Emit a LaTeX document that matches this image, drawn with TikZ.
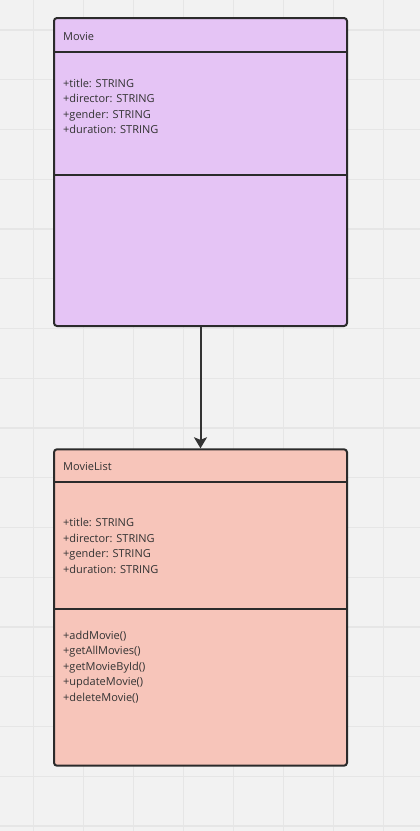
\documentclass[tikz,border=0pt]{standalone}
\usepackage{fontspec}
\setmainfont{Open Sans}
\usetikzlibrary{arrows.meta}
\definecolor{bg}{HTML}{F2F2F2}
\definecolor{gridc}{HTML}{E6E6E6}
\definecolor{edge}{HTML}{2B2B2B}
\definecolor{txt}{HTML}{333333}
\definecolor{lav}{HTML}{E5C4F5}
\definecolor{salmon}{HTML}{F7C5BA}
\tikzset{
  classbox/.style={draw=edge, line width=2pt, rounded corners=3pt, inner sep=0pt, minimum width=293pt},
  divider/.style={draw=edge, line width=1.8pt},
  label/.style={anchor=base west, inner sep=0pt, font=\fontsize{11pt}{13pt}\selectfont, text=txt},
  gridline/.style={draw=gridc, line width=1.3pt},
  link/.style={draw=txt, line width=2pt, -{Stealth[length=11pt,width=13pt,inset=2.5pt]}}
}
\begin{document}
\begin{tikzpicture}[x=1pt,y=-1pt]
\fill[bg] (0,0) rectangle (420,831);
\useasboundingbox (0,0) rectangle (420,831);
\foreach \i in {0,...,7} \draw[gridline] (33.5+50*\i,0) -- (33.5+50*\i,831);
\foreach \j in {0,...,16} \draw[gridline] (0,30+49.75*\j) -- (420,30+49.75*\j);

% Movie
\node[classbox, fill=lav, minimum height=308pt] (movie) at (200.5,172) {};
\draw[divider] (54,51.7) -- (347,51.7);
\draw[divider] (54,175) -- (347,175);
\node[label] (mtitle) at (63,40) {Movie};
\node[label] (ma1) at (63,87) {+title: STRING};
\node[label] (ma2) at (63,102.5) {+director: STRING};
\node[label] (ma3) at (63,118) {+gender: STRING};
\node[label] (ma4) at (63,133.5) {+duration: STRING};

% MovieList
\node[classbox, fill=salmon, minimum height=316.4pt] (movielist) at (200.5,607.5) {};
\draw[divider] (54,481.7) -- (347,481.7);
\draw[divider] (54,609) -- (347,609);
\node[label] (ltitle) at (63,470) {MovieList};
\node[label] (la1) at (63,526.7) {+title: STRING};
\node[label] (la2) at (63,542.2) {+director: STRING};
\node[label] (la3) at (63,557.7) {+gender: STRING};
\node[label] (la4) at (63,573.2) {+duration: STRING};
\node[label] (lm1) at (63,639) {+addMovie()};
\node[label] (lm2) at (63,654.6) {+getAllMovies()};
\node[label] (lm3) at (63,670.2) {+getMovieById()};
\node[label] (lm4) at (63,685.8) {+updateMovie()};
\node[label] (lm5) at (63,701.4) {+deleteMovie()};

\draw[link] (movie.south) -- (movielist.north);
\end{tikzpicture}
\end{document}
